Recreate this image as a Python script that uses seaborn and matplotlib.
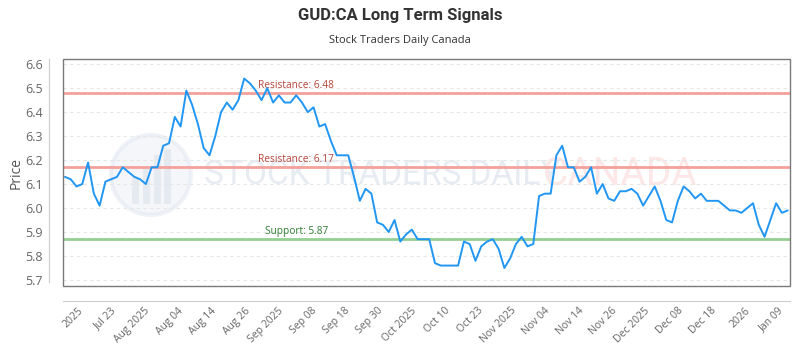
import numpy as np
import pandas as pd
import seaborn as sns
import matplotlib.pyplot as plt
from matplotlib.patches import Rectangle, Ellipse

# precios de cierre (126 sesiones, jul 2025 - ene 2026)
precios = [
    6.13, 6.12, 6.09, 6.10, 6.19, 6.06, 6.01, 6.11, 6.12, 6.13,
    6.17, 6.15, 6.13, 6.12, 6.10, 6.17, 6.17, 6.26, 6.27, 6.38,
    6.34, 6.49, 6.43, 6.35, 6.25, 6.22, 6.30, 6.40, 6.44, 6.41,
    6.45, 6.54, 6.52, 6.49, 6.45, 6.50, 6.44, 6.47, 6.44, 6.44,
    6.47, 6.44, 6.40, 6.42, 6.34, 6.35, 6.28, 6.22, 6.22, 6.22,
    6.13, 6.03, 6.08, 6.06, 5.94, 5.93, 5.90, 5.95, 5.86, 5.89,
    5.91, 5.87, 5.87, 5.87, 5.77, 5.76, 5.76, 5.76, 5.76, 5.86,
    5.85, 5.78, 5.84, 5.86, 5.87, 5.83, 5.75, 5.79, 5.85, 5.88,
    5.84, 5.85, 6.05, 6.06, 6.06, 6.22, 6.26, 6.17, 6.17, 6.11,
    6.13, 6.17, 6.06, 6.10, 6.04, 6.03, 6.07, 6.07, 6.08, 6.06,
    6.01, 6.05, 6.09, 6.03, 5.95, 5.94, 6.03, 6.09, 6.07, 6.04,
    6.06, 6.03, 6.03, 6.03, 6.01, 5.99, 5.99, 5.98, 6.00, 6.02,
    5.93, 5.88, 5.95, 6.02, 5.98, 5.99,
]

etiquetas_x = ['2025', 'Jul 23', 'Aug 2025', 'Aug 04', 'Aug 14', 'Aug 26',
               'Sep 2025', 'Sep 08', 'Sep 18', 'Sep 30', 'Oct 2025', 'Oct 10',
               'Oct 23', 'Nov 2025', 'Nov 04', 'Nov 14', 'Nov 26', 'Dec 2025',
               'Dec 08', 'Dec 18', '2026', 'Jan 09']

niveles = [6.48, 6.17, 5.87]
nombres_niveles = ['Resistance', 'Resistance', 'Support']

df = pd.DataFrame({'idx': np.arange(len(precios)), 'precio': precios})

sns.set_style('white')
plt.rcParams['font.family'] = ['Open Sans', 'DejaVu Sans']

fig = plt.figure(figsize=(8, 3.5), dpi=100)
ax = fig.add_axes([0.079, 0.183, 0.9085, 0.648])

# ejes desplazados (antes de configurar los ticks, porque set_position los reinicia)
for s in ['top', 'right']:
    ax.spines[s].set_visible(False)
ax.spines['left'].set_position(('outward', 10))
ax.spines['bottom'].set_position(('outward', 11))
ax.spines['left'].set_color('#cccccc')
ax.spines['bottom'].set_color('#cccccc')

# marca de agua
ax.add_patch(Ellipse((0.1206, 0.489), 80 / 727, 80 / 227, transform=ax.transAxes,
                     facecolor='#e9edf5', edgecolor='#dde3ee', lw=3, alpha=0.45, zorder=0))
for bx, bh in zip([0.093, 0.108, 0.123, 0.138], [0.12, 0.17, 0.22, 0.25]):
    ax.add_patch(Rectangle((bx, 0.36), 0.011, bh, transform=ax.transAxes,
                           facecolor='#cfd6e3', alpha=0.4, zorder=0))
ax.text(0.194, 0.49, 'STOCK TRADERS DAILY', transform=ax.transAxes, fontsize=24,
        family=['Roboto', 'DejaVu Sans'], color='#e7ebf2',
        ha='left', va='center', zorder=0)
ax.text(0.66, 0.49, 'CANADA', transform=ax.transAxes, fontsize=28,
        family=['Roboto', 'DejaVu Sans'], color='#fde7e7',
        ha='left', va='center', zorder=0)

# niveles de soporte / resistencia
for nivel, nombre in zip(niveles, nombres_niveles):
    color_linea = '#f4a19b' if nombre == 'Resistance' else '#94cf94'
    color_texto = '#b5443a' if nombre == 'Resistance' else '#2f7d32'
    ax.axhline(nivel, color=color_linea, lw=2, zorder=1)
    ax.text(40, nivel + 0.008, f'{nombre}: {nivel:.2f}', color=color_texto,
            fontsize=7.3, ha='center', va='bottom', zorder=2)

sns.lineplot(data=df, x='idx', y='precio', ax=ax, color='#2196f3', lw=1.4, zorder=3)

ax.set_xlim(-0.3, len(precios) - 0.6)
ax.set_ylim(5.675, 6.621)
ax.spines['left'].set_bounds(5.69, 6.62)
ax.set_yticks(np.arange(5.7, 6.65, 0.1))
ax.set_yticklabels([f'{v:.1f}' for v in np.arange(5.7, 6.65, 0.1)])
ax.set_xticks(np.linspace(2.2, 123.3, len(etiquetas_x)))
ax.set_xticklabels(etiquetas_x)

ax.yaxis.grid(True, color='#e6e6e6', ls=(0, (3, 3)), lw=0.8)
ax.xaxis.grid(False)
ax.tick_params(axis='y', length=0, pad=4.5, labelsize=9, labelcolor='#666666')
ax.tick_params(axis='x', length=0, pad=3, labelsize=7.5, labelcolor='#666666')
for lab in ax.get_xticklabels():
    lab.set_rotation(45)
    lab.set_ha('right')
    lab.set_rotation_mode('anchor')

ax.add_patch(Rectangle((0, 0), 1, 1, transform=ax.transAxes, fill=False,
                       edgecolor='#7a7a7a', lw=1, clip_on=False, zorder=4))

ax.set_xlabel('')
ax.set_ylabel('Price', fontsize=10, color='#555555', labelpad=1)

fig.text(0.5, 0.955, 'GUD:CA Long Term Signals', ha='center', va='center',
         fontsize=12, fontweight='bold', color='#333333',
         family=['Roboto', 'DejaVu Sans'])
fig.text(0.5, 0.885, 'Stock Traders Daily Canada', ha='center', va='center',
         fontsize=8, color='#333333')

fig.savefig('out.png', dpi=100)
